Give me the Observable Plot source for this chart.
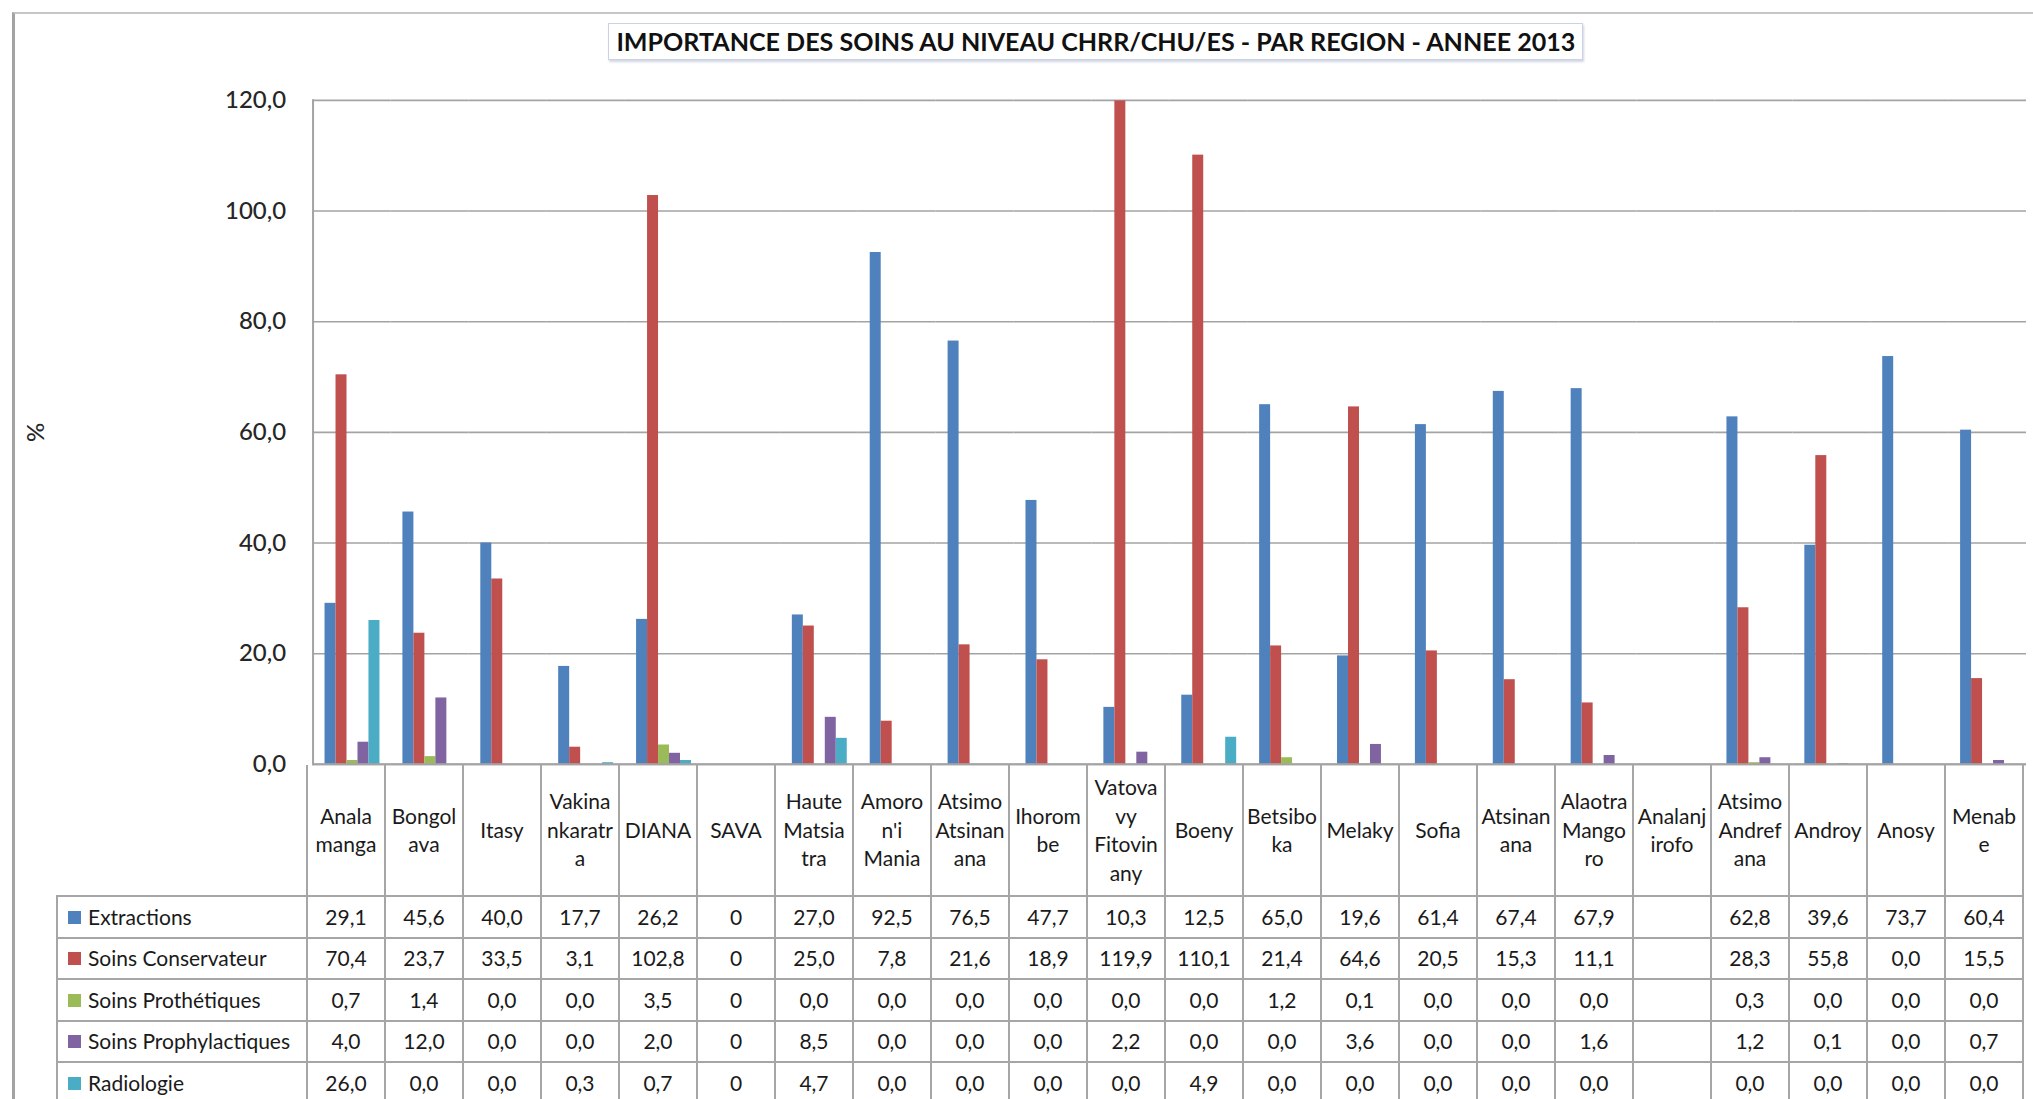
<!DOCTYPE html>
<html>
<head>
<meta charset="utf-8">
<script src="https://cdn.jsdelivr.net/npm/d3@7"></script>
<script src="https://cdn.jsdelivr.net/npm/@observablehq/plot@0.6"></script>
<style>
html, body { margin: 0; padding: 0; background: #fff; overflow: hidden; }
#page { position: relative; width: 2033px; height: 1099px; overflow: hidden; background: #fff; font-family: Lato, "Open Sans", sans-serif; }
#outer { position: absolute; left: 12px; top: 12px; width: 3000px; height: 3000px; border-left: 3px solid #a3a3a3; border-top: 2px solid #c6c6c6; }
#title { position: absolute; left: 608px; top: 23px; width: 975px; height: 37px; box-sizing: border-box; border: 1px solid #c9d3e3; box-shadow: 1px 2px 2px rgba(150,165,195,0.45); background: #fff; display: flex; align-items: center; justify-content: center; overflow: hidden; }
#title span { font-weight: 700; font-size: 24px; white-space: nowrap; color: #111; display: inline-block; transform-origin: center center; }
#chart { position: absolute; left: 0; top: 0; }
#table { position: absolute; left: 56px; top: 765px; border-collapse: collapse; table-layout: fixed; font-size: 21px; color: #1a1a1a; }
#table td { padding: 0; text-align: center; vertical-align: middle; white-space: pre; border: 2px solid #a6a6a6; overflow: hidden; }
#table tr.head td { border-top: none; line-height: 28.5px; height: 130px; }
#table tr.head td.blank { border: none; }
#table tr.row td { height: 39.5px; line-height: 22px; }
#table td.legend { text-align: left; padding-left: 10px; }
#table td.legend i { display: inline-block; width: 13px; height: 13px; margin-right: 7px; vertical-align: 1px; }
</style>
</head>
<body>
<div id="page">
  <div id="outer"></div>
  <div id="chart"></div>
  <div id="title"><span>IMPORTANCE DES SOINS AU NIVEAU CHRR/CHU/ES - PAR REGION - ANNEE 2013</span></div>
</div>
<script>
// ---------- data ----------
const regions = ["Analamanga","Bongolava","Itasy","Vakinankaratra","DIANA","SAVA","Haute Matsiatra","Amoron'i Mania","Atsimo Atsinanana","Ihorombe","Vatovavy Fitovinany","Boeny","Betsiboka","Melaky","Sofia","Atsinanana","Alaotra Mangoro","Analanjirofo","Atsimo Andrefana","Androy","Anosy","Menabe"];
const regionLabels = ["Anala\nmanga","Bongol\nava","Itasy","Vakina\nnkaratr\na","DIANA","SAVA","Haute\nMatsia\ntra","Amoro\nn'i\nMania","Atsimo\nAtsinan\nana","Ihorom\nbe","Vatova\nvy\nFitovin\nany","Boeny","Betsibo\nka","Melaky","Sofia","Atsinan\nana","Alaotra\nMango\nro","Analanj\nirofo","Atsimo\nAndref\nana","Androy","Anosy","Menab\ne"];
const series = ["Extractions","Soins Conservateur","Soins Prothétiques","Soins Prophylactiques","Radiologie"];
const extractions          = [29.1,45.6,40.0,17.7,26.2,0,27.0,92.5,76.5,47.7,10.3,12.5,65.0,19.6,61.4,67.4,67.9,null,62.8,39.6,73.7,60.4];
const soinsConservateur    = [70.4,23.7,33.5,3.1,102.8,0,25.0,7.8,21.6,18.9,119.9,110.1,21.4,64.6,20.5,15.3,11.1,null,28.3,55.8,0.0,15.5];
const soinsProthetiques    = [0.7,1.4,0.0,0.0,3.5,0,0.0,0.0,0.0,0.0,0.0,0.0,1.2,0.1,0.0,0.0,0.0,null,0.3,0.0,0.0,0.0];
const soinsProphylactiques = [4.0,12.0,0.0,0.0,2.0,0,8.5,0.0,0.0,0.0,2.2,0.0,0.0,3.6,0.0,0.0,1.6,null,1.2,0.1,0.0,0.7];
const radiologie           = [26.0,0.0,0.0,0.3,0.7,0,4.7,0.0,0.0,0.0,0.0,4.9,0.0,0.0,0.0,0.0,0.0,null,0.0,0.0,0.0,0.0];
const seriesColors = ["#4F81BD","#C0504D","#9BBB59","#8064A2","#4BACC6"];
const yTicks = [0,20,40,60,80,100,120];
const integerCellRegions = ["SAVA"]; // cells entered as "0" in the source table
const titleText = "IMPORTANCE DES SOINS AU NIVEAU CHRR/CHU/ES - PAR REGION - ANNEE 2013";

// ---------- build ----------
const seriesValues = [extractions, soinsConservateur, soinsProthetiques, soinsProphylactiques, radiologie];
const rows = [];
regions.forEach((r, i) => seriesValues.forEach((vals, j) => {
  rows.push({region: r, series: series[j], value: vals[i]}); // nulls kept so every facet exists; barY skips them
}));
const fmt = d => d.toFixed(1).replace(".", ",");
const gridColor = "#a3a3a3";

const chart = Plot.plot({
  width: 2036, height: 766,
  marginTop: 100, marginBottom: 1, marginLeft: 306, marginRight: 0,
  style: {fontFamily: "Lato, 'Open Sans', sans-serif", background: "transparent", overflow: "visible"},
  fx: {domain: regions, padding: 0, axis: null, label: null},
  x: {domain: series, paddingInner: 0, paddingOuter: 0.8, axis: null},
  y: {domain: [0, 120], axis: null},
  color: {domain: series, range: seriesColors},
  marks: [
    Plot.gridY(yTicks, {stroke: gridColor, strokeOpacity: 1, strokeWidth: 1.6}),
    Plot.axisY(yTicks, {anchor: "left", tickSize: 0, tickPadding: 27, tickFormat: fmt, fontSize: 24, fontWeight: 500, fill: "#262626",
      label: "%", labelAnchor: "center", labelArrow: "none", labelOffset: 286}),
    Plot.barY(rows, {fx: "region", x: "series", y: "value", fill: "series"}),
    Plot.ruleY([0], {stroke: gridColor, strokeWidth: 2}),
    Plot.frame({anchor: "left", facet: "super", stroke: gridColor, strokeWidth: 2})
  ]
});
document.getElementById("chart").appendChild(chart);

// ---------- data table (aligned on the fx scale) ----------
const fx = chart.scale("fx");
const step = fx.step || fx.bandwidth;
const tableLeft = 56;
const firstColW = 306 - tableLeft;
const table = document.createElement("table");
table.id = "table";
const colgroup = document.createElement("colgroup");
let cg = `<col style="width:${firstColW}px">`;
regions.forEach(() => cg += `<col style="width:${step}px">`);
colgroup.innerHTML = cg;
table.appendChild(colgroup);
table.style.width = (firstColW + step * regions.length) + "px";

const head = document.createElement("tr");
head.className = "head";
head.innerHTML = `<td class="blank"></td>` + regionLabels.map(l => `<td>${l}</td>`).join("");
table.appendChild(head);
series.forEach((s, j) => {
  const tr = document.createElement("tr");
  tr.className = "row";
  let html = `<td class="legend"><i style="background:${seriesColors[j]}"></i>${s}</td>`;
  regions.forEach((r, i) => {
    const v = seriesValues[j][i];
    const txt = v == null ? "" : (integerCellRegions.includes(r) ? String(v) : fmt(v));
    html += `<td>${txt}</td>`;
  });
  tr.innerHTML = html;
  table.appendChild(tr);
});
document.getElementById("page").appendChild(table);

// ---------- fit title ----------
const span = document.querySelector("#title span");
span.textContent = titleText;
const w = span.getBoundingClientRect().width;
span.style.transform = `scaleX(${959 / w})`;
</script>
</body>
</html>
